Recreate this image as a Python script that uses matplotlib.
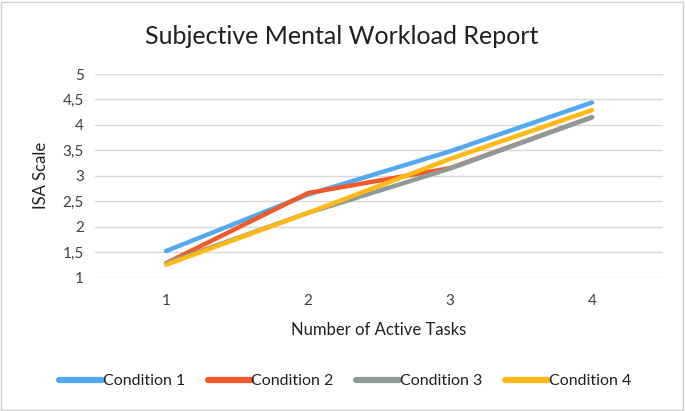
import matplotlib
matplotlib.use("Agg")
import matplotlib.pyplot as plt
from matplotlib.patches import Rectangle

tasks = [1, 2, 3, 4]
cond1 = [1.52, 2.63, 3.48, 4.44]
cond2 = [1.28, 2.66, 3.15, 4.15]
cond3 = [1.28, 2.27, 3.14, 4.15]
cond4 = [1.25, 2.27, 3.33, 4.29]
series = [("Condition 1", cond1, "#52A9EF"),
          ("Condition 2", cond2, "#F05A28"),
          ("Condition 3", cond3, "#8E9A98"),
          ("Condition 4", cond4, "#FFB914")]
yticks = [1, 1.5, 2, 2.5, 3, 3.5, 4, 4.5, 5]
ytick_labels = ["1", "1,5", "2", "2,5", "3", "3,5", "4", "4,5", "5"]

plt.rcParams['font.family'] = ['Lato', 'DejaVu Sans']
fig = plt.figure(figsize=(6.85, 4.11), dpi=100)
W, H = 685, 411
ax = fig.add_axes([95 / W, 1 - 277.5 / H, (663 - 95) / W, (277.5 - 74) / H])

for name, vals, col in series:
    ax.plot(tasks, vals, color=col, lw=3.2, solid_capstyle='round', label=name)

ax.set_xlim(0.5, 4.5)
ax.set_ylim(1, 5)
ax.set_yticks(yticks)
ax.set_yticklabels(ytick_labels)
ax.set_xticks(tasks)
ax.grid(axis='y', color='#D9D9D9', lw=1)
ax.set_axisbelow(True)
for s in ax.spines.values():
    s.set_visible(False)
ax.tick_params(length=0, labelsize=11, colors='#404040', pad=8)
ax.tick_params(axis='x', pad=12)
ax.set_ylabel("ISA Scale", fontsize=12, color='#202020', labelpad=10)
ax.set_xlabel("Number of Active Tasks", fontsize=12, color='#202020', labelpad=10)

fig.text(342 / W, 1 - 37 / H, "Subjective Mental Workload Report", ha='center', va='center',
         fontsize=18, color='#202020')

leg = fig.legend(loc='center', bbox_to_anchor=(345 / W, 1 - 381 / H), ncol=4, frameon=False,
                 fontsize=11.5, handlelength=2.7, handletextpad=0.05, columnspacing=1.4)
for t in leg.get_texts():
    t.set_color('#202020')
for h in leg.legend_handles:
    h.set_linewidth(4.5)

fig.patches.append(Rectangle((0.002, 0.003), 0.995, 0.993, transform=fig.transFigure,
                             fill=False, edgecolor='#D0D0D0', lw=1))
fig.savefig("out.png", dpi=100)
